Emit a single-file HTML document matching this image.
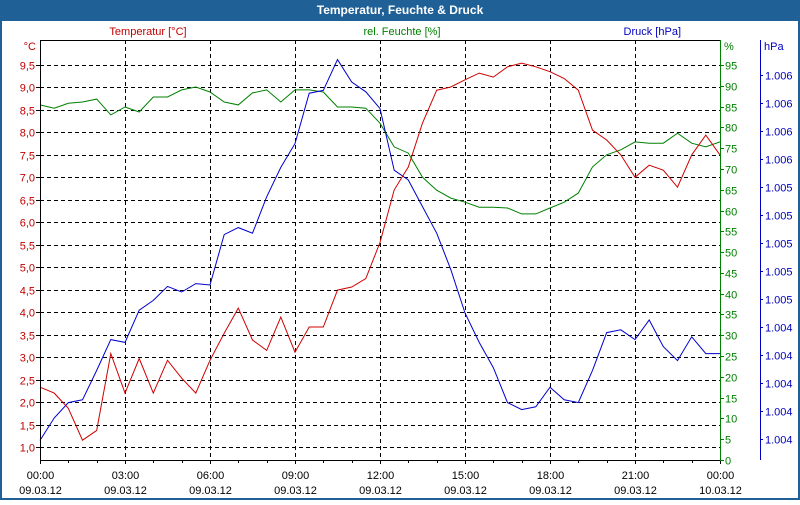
<!DOCTYPE html>
<html><head><meta charset="utf-8"><style>
html,body{margin:0;padding:0;background:#fff}
svg text{font-family:"Liberation Sans","DejaVu Sans",sans-serif;font-size:11px}
</style></head><body>
<svg id="chart" width="800" height="500" xmlns="http://www.w3.org/2000/svg">
<rect x="0" y="0" width="800" height="500" fill="#1f6096"/>
<rect x="2" y="21" width="796" height="477" fill="#fff"/>
<text x="400" y="14" text-anchor="middle" fill="#fff" font-weight="bold" style="font-size:12px">Temperatur, Feuchte &amp; Druck</text>
<text x="148" y="35" text-anchor="middle" fill="#c00000">Temperatur [°C]</text>
<text x="402" y="35" text-anchor="middle" fill="#008000">rel. Feuchte [%]</text>
<text x="681" y="35" text-anchor="end" fill="#0000c0">Druck [hPa]</text>
<text x="36" y="50" text-anchor="end" fill="#c00000">°C</text>
<text x="724" y="50" fill="#008000">%</text>
<text x="764" y="50" fill="#0000c0">hPa</text>
<g id="grid"></g><g id="series"></g><g id="axes"></g>
</svg>
<script>
const timeLabels=["00:00","03:00","06:00","09:00","12:00","15:00","18:00","21:00","00:00"];
const dateLabels=["09.03.12","09.03.12","09.03.12","09.03.12","09.03.12","09.03.12","09.03.12","09.03.12","10.03.12"];
const tempTicks=[1.0,1.5,2.0,2.5,3.0,3.5,4.0,4.5,5.0,5.5,6.0,6.5,7.0,7.5,8.0,8.5,9.0,9.5];
const humTicks=[0,5,10,15,20,25,30,35,40,45,50,55,60,65,70,75,80,85,90,95];
const pressTicks=[1006.3,1006.1,1005.9,1005.7,1005.5,1005.3,1005.1,1004.9,1004.7,1004.5,1004.3,1004.1,1003.9,1003.7];
const pressTickLabels=["1.006","1.006","1.006","1.006","1.005","1.005","1.005","1.005","1.005","1.004","1.004","1.004","1.004","1.004"];
const hours=[0,0.5,1,1.5,2,2.5,3,3.5,4,4.5,5,5.5,6,6.5,7,7.5,8,8.5,9,9.5,10,10.5,11,11.5,12,12.5,13,13.5,14,14.5,15,15.5,16,16.5,17,17.5,18,18.5,19,19.5,20,20.5,21,21.5,22,22.5,23,23.5,24];
const temperature=[2.33,2.2,1.86,1.15,1.37,3.08,2.2,2.97,2.2,2.93,2.53,2.2,2.93,3.53,4.09,3.38,3.15,3.89,3.11,3.67,3.67,4.49,4.56,4.75,5.55,6.72,7.23,8.21,8.94,9.01,9.17,9.32,9.23,9.46,9.54,9.46,9.35,9.2,8.94,8.05,7.83,7.5,7.0,7.27,7.16,6.78,7.5,7.94,7.5];
const humidity=[85.4,84.6,85.8,86.1,86.8,83,84.9,83.7,87.3,87.3,89,89.7,88.5,86.1,85.4,88.3,89,86.1,89,89,88.5,84.9,84.9,84.6,81,75.3,73.8,68,64.9,63,62,60.8,60.8,60.6,59.2,59.2,60.6,62,64.2,70.5,73.4,74.6,76.5,76.2,76.2,78.6,76.2,75.3,76.5];
const pressure=[1003.69,1003.85,1003.96,1003.98,1004.19,1004.41,1004.39,1004.62,1004.69,1004.79,1004.75,1004.81,1004.8,1005.16,1005.21,1005.17,1005.43,1005.64,1005.81,1006.17,1006.19,1006.41,1006.25,1006.18,1006.06,1005.62,1005.55,1005.36,1005.17,1004.91,1004.6,1004.39,1004.21,1003.96,1003.91,1003.93,1004.07,1003.98,1003.96,1004.19,1004.46,1004.48,1004.41,1004.55,1004.36,1004.26,1004.43,1004.31,1004.31];

const NS="http://www.w3.org/2000/svg";
const L=40,R=720,T=40,B=460;
const xS=h=>L+(R-L)*h/24;
const yT=v=>65+(9.5-v)*44.94;
const yH=v=>460-v*(395/95);
const yP=v=>75+(1006.3-v)/0.2*28;
function mk(tag,at,parent){const e=document.createElementNS(NS,tag);for(const k in at)e.setAttribute(k,at[k]);parent.appendChild(e);return e;}
const grid=document.getElementById('grid'),axes=document.getElementById('axes'),ser=document.getElementById('series');
let e;
e=mk('rect',{x:L,y:T,width:R-L,height:B-T,fill:'#fff'},grid);


tempTicks.forEach(v=>{const y=Math.round(yT(v))+0.5;
 e=mk('line',{x1:L,x2:R,y1:y,y2:y,stroke:'#000','stroke-dasharray':'4,3'},grid);
 
 
 e=mk('line',{x1:L-4,x2:L,y1:y,y2:y,stroke:'#000'},axes);
 
 
 e=mk('text',{x:L-5,y:y+4,'text-anchor':'end',fill:'#c00000'},axes);e.textContent=v.toFixed(1).replace('.',',');
 
 });
timeLabels.forEach((t,i)=>{const x=Math.round(xS(i*3))+0.5;
 if(i>0&&i<8){e=mk('line',{x1:x,x2:x,y1:T,y2:B,stroke:'#000','stroke-dasharray':'4,3'},grid);
 
 }
 e=mk('text',{x:x,y:479,'text-anchor':'middle',fill:'#000'},axes);e.textContent=t;
 
 
 e=mk('text',{x:x,y:494,'text-anchor':'middle',fill:'#000'},axes);e.textContent=dateLabels[i];
 
 });
for(let h=0;h<=24;h++){const x=Math.round(xS(h))+0.5;
 e=mk('line',{x1:x,x2:x,y1:B,y2:B+(h%3===0?4:3),stroke:'#000'},axes);
 
 }
e=mk('path',{d:`M${R+0.5} ${T+0.5}H${L+0.5}V${B+0.5}H${R+0.5}`,fill:'none',stroke:'#000'},axes);


e=mk('line',{x1:R+0.5,x2:R+0.5,y1:T,y2:B+1,stroke:'#008000'},axes);


humTicks.forEach(v=>{const y=Math.round(yH(v))+0.5;
 e=mk('line',{x1:R,x2:R+4,y1:y,y2:y,stroke:'#008000'},axes);
 
 
 e=mk('text',{x:R+5,y:y+4,fill:'#008000'},axes);e.textContent=v;
 
 });
e=mk('line',{x1:760.5,x2:760.5,y1:T,y2:B,stroke:'#0000c0'},axes);


pressTicks.forEach((v,i)=>{const y=Math.round(yP(v))+0.5;
 e=mk('line',{x1:760,x2:763,y1:y,y2:y,stroke:'#0000c0'},axes);
 
 
 e=mk('text',{x:765,y:y+4,fill:'#0000c0'},axes);e.textContent=pressTickLabels[i];
 
 });
function line(vals,ys,color,name){const d=vals.map((v,i)=>(i?'L':'M')+xS(hours[i]).toFixed(1)+' '+ys(v).toFixed(1)).join('');
 const p=mk('path',{d:d,fill:'none',stroke:color,'stroke-width':1},ser);
 
 }
line(humidity,yH,'#008000','humidity-line');
line(pressure,yP,'#0000d0','pressure-line');
line(temperature,yT,'#d00000','temperature-line');
</script>
</body></html>
